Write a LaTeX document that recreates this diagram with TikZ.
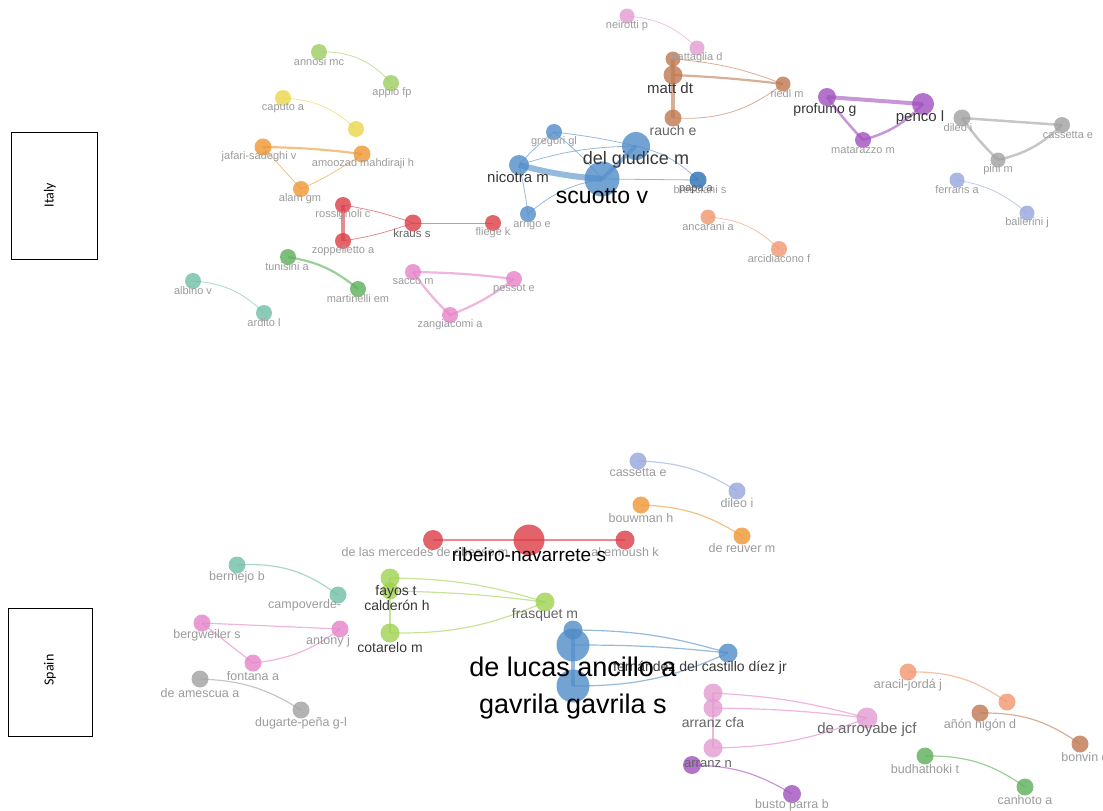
\documentclass[tikz,border=0pt]{standalone}
\usepackage{fontspec}
\setmainfont{Liberation Sans}
\newfontfamily\condfont{Carlito}
\usetikzlibrary{backgrounds}
\newcommand\lfs[1]{\fontsize{#1}{#1}\selectfont}
\definecolor{cGreenL}{RGB}{158,204,96}
\definecolor{cYellow}{RGB}{232,214,72}
\definecolor{cOrange}{RGB}{238,150,50}
\definecolor{cRed}{RGB}{220,60,70}
\definecolor{cGreen}{RGB}{90,175,90}
\definecolor{cTeal}{RGB}{110,190,165}
\definecolor{cPink}{RGB}{230,130,200}
\definecolor{cPinkL}{RGB}{228,155,210}
\definecolor{cBrown}{RGB}{190,120,80}
\definecolor{cBlue}{RGB}{80,140,200}
\definecolor{cBlueD}{RGB}{40,110,180}
\definecolor{cSalmon}{RGB}{240,150,110}
\definecolor{cPurple}{RGB}{160,80,190}
\definecolor{cGray}{RGB}{160,160,160}
\definecolor{cLav}{RGB}{150,165,220}
\definecolor{cLime}{RGB}{160,210,80}
\definecolor{tGray}{RGB}{155,155,155}
\definecolor{tMid}{RGB}{100,100,100}
\definecolor{tDark}{RGB}{55,55,55}
\tikzset{
  nd/.style 2 args={circle, fill=#1, fill opacity=0.8, draw=none, inner sep=0pt, minimum size=#2},
  ed/.style 2 args={draw=#1, line width=#2, draw opacity=0.6},
  lbI/.style={text=tGray, font=\lfs{11}, inner sep=0pt},
  lbS/.style={text=tGray, font=\lfs{12.5}, inner sep=0pt},
  lbM/.style={text=tMid, font=\lfs{#1}, inner sep=0pt},
  lbD/.style={text=tDark, font=\lfs{#1}, inner sep=0pt},
  lbB/.style={text=black, font=\lfs{#1}, inner sep=0pt},
  ctry/.style={draw=black, line width=0.8pt},
}
\begin{document}
\begin{tikzpicture}[x=1pt,y=-1pt]
\useasboundingbox (0,0) rectangle (1103,811);

% ---------------- country boxes
\draw[ctry] (11,132) rectangle (97,259);
\node[rotate=90, font=\condfont\lfs{14}] (italy) at (50,195) {Italy};
\draw[ctry] (8,608) rectangle (92,736);
\node[rotate=90, font=\condfont\lfs{14}] (spain) at (50,670) {Spain};

% ================= ITALY nodes
\node[nd={cGreenL}{16pt}] (annosi) at (319,52) {};
\node[nd={cGreenL}{16pt}] (appio) at (391,83) {};
\node[nd={cYellow}{16pt}] (caputo) at (283,98) {};
\node[nd={cYellow}{16pt}] (yel2) at (356,129) {};
\node[nd={cOrange}{17pt}] (jafari) at (263,147) {};
\node[nd={cOrange}{17pt}] (amoozad) at (362,154) {};
\node[nd={cOrange}{16pt}] (alam) at (301,189) {};
\node[nd={cRed}{16pt}] (rossignoli) at (343,205) {};
\node[nd={cRed}{16pt}] (zoppelletto) at (343,241) {};
\node[nd={cRed}{17pt}] (kraus) at (413,223) {};
\node[nd={cRed}{16pt}] (fliege) at (493,223) {};
\node[nd={cGreen}{16pt}] (tunisini) at (288,257) {};
\node[nd={cGreen}{16pt}] (martinelli) at (358,289) {};
\node[nd={cTeal}{16pt}] (albino) at (193,281) {};
\node[nd={cTeal}{16pt}] (ardito) at (264,313) {};
\node[nd={cPink}{16pt}] (sacco) at (413,272) {};
\node[nd={cPink}{16pt}] (pessot) at (514,279) {};
\node[nd={cPink}{16pt}] (zangiacomi) at (450,315) {};
\node[nd={cPinkL}{15pt}] (neirotti) at (627,16) {};
\node[nd={cPinkL}{15pt}] (battaglia) at (697,48) {};
\node[nd={cBrown}{15pt}] (brown1) at (673,59) {};
\node[nd={cBrown}{19pt}] (matt) at (673,75) {};
\node[nd={cBrown}{17pt}] (rauch) at (673,118) {};
\node[nd={cBrown}{15pt}] (riedl) at (783,84) {};
\node[nd={cBlue}{16pt}] (gregori) at (554,132) {};
\node[nd={cBlue}{28pt}] (delgiudice) at (636,146) {};
\node[nd={cBlue}{20pt}] (nicotra) at (519,165) {};
\node[nd={cBlue}{35pt}] (scuotto) at (602,179) {};
\node[nd={cBlueD}{17pt}] (papa) at (698,180) {};
\node[nd={cBlue}{16pt}] (arrigo) at (528,214) {};
\node[nd={cSalmon}{15pt}] (ancarani) at (708,217) {};
\node[nd={cSalmon}{16pt}] (arcidiacono) at (779,249) {};
\node[nd={cPurple}{18pt}] (profumo) at (827,97) {};
\node[nd={cPurple}{22pt}] (penco) at (923,104) {};
\node[nd={cPurple}{16pt}] (matarazzo) at (863,140) {};
\node[nd={cGray}{17pt}] (dileo) at (962,118) {};
\node[nd={cGray}{16pt}] (cassetta) at (1062,125) {};
\node[nd={cGray}{15pt}] (pini) at (998,160) {};
\node[nd={cLav}{15pt}] (ferraris) at (957,180) {};
\node[nd={cLav}{15pt}] (ballerini) at (1027,213) {};

% ================= SPAIN nodes
\node[nd={cLav}{17pt}] (cassettaS) at (638,461) {};
\node[nd={cLav}{17pt}] (dileoS) at (737,491) {};
\node[nd={cOrange}{17pt}] (bouwman) at (641,505) {};
\node[nd={cOrange}{17pt}] (dereuver) at (742,536) {};
\node[nd={cRed}{20pt}] (mercedes) at (433,540) {};
\node[nd={cRed}{31pt}] (ribeiro) at (529,540) {};
\node[nd={cRed}{19pt}] (alemoush) at (625,540) {};
\node[nd={cTeal}{17pt}] (bermejo) at (237,565) {};
\node[nd={cTeal}{17pt}] (campoverde) at (338,595) {};
\node[nd={cLime}{19pt}] (fayos) at (390,578) {};
\node[nd={cLime}{17pt}] (calderon) at (390,591) {};
\node[nd={cLime}{19pt}] (cotarelo) at (390,633) {};
\node[nd={cLime}{19pt}] (frasquet) at (545,602) {};
\node[nd={cPink}{17pt}] (bergweiler) at (202,623) {};
\node[nd={cPink}{17pt}] (antony) at (340,629) {};
\node[nd={cPink}{17pt}] (fontana) at (253,663) {};
\node[nd={cGray}{17pt}] (deamescua) at (200,679) {};
\node[nd={cGray}{17pt}] (dugarte) at (301,710) {};
\node[nd={cBlue}{19pt}] (blueS) at (573,630) {};
\node[nd={cBlue}{33pt}] (delucas) at (573,645) {};
\node[nd={cBlue}{33pt}] (gavrila) at (573,686) {};
\node[nd={cBlue}{19pt}] (fernandez) at (728,653) {};
\node[nd={cPinkL}{19pt}] (arranzA) at (713,693) {};
\node[nd={cPinkL}{19pt}] (arranzB) at (713,708) {};
\node[nd={cPinkL}{19pt}] (arranzC) at (713,748) {};
\node[nd={cPinkL}{21pt}] (dearroyabe) at (867,718) {};
\node[nd={cPurple}{18pt}] (arranzn) at (692,765) {};
\node[nd={cPurple}{18pt}] (busto) at (792,794) {};
\node[nd={cSalmon}{17pt}] (aracil) at (908,672) {};
\node[nd={cSalmon}{17pt}] (salmon2) at (1007,702) {};
\node[nd={cBrown}{17pt}] (anon) at (980,713) {};
\node[nd={cBrown}{17pt}] (bonvin) at (1080,744) {};
\node[nd={cGreen}{17pt}] (budhathoki) at (925,756) {};
\node[nd={cGreen}{17pt}] (canhoto) at (1025,787) {};

% ================= edges (background)
\begin{scope}[on background layer]
% Italy
\draw[ed={cGreenL}{0.8}] (annosi.center) to[bend left=25] (appio.center);
\draw[ed={cYellow}{0.8}] (caputo.center) to[bend left=20] (yel2.center);
\draw[ed={cOrange}{2.2}] (jafari.center) to[bend left=3] (amoozad.center);
\draw[ed={cOrange}{0.8}] (jafari.center) to (alam.center);
\draw[ed={cOrange}{0.8}] (alam.center) to[bend right=5] (amoozad.center);
\draw[ed={cRed}{3.5}] (rossignoli.center) to (zoppelletto.center);
\draw[ed={cRed}{0.8}] (rossignoli.center) to[bend left=5] (kraus.center);
\draw[ed={cRed}{0.8}] (kraus.center) to[bend left=5] (zoppelletto.center);
\draw[ed={cRed}{0.8}] (kraus.center) to (fliege.center);
\draw[ed={cGreen}{2.2}] (tunisini.center) to[bend left=15] (martinelli.center);
\draw[ed={cTeal}{0.8}] (albino.center) to[bend left=20] (ardito.center);
\draw[ed={cPink}{2.2}] (sacco.center) to[bend left=3] (pessot.center);
\draw[ed={cPink}{2.2}] (pessot.center) to[bend left=8] (zangiacomi.center);
\draw[ed={cPink}{2.2}] (zangiacomi.center) to[bend left=5] (sacco.center);
\draw[ed={cPinkL}{0.8}] (neirotti.center) to[bend left=20] (battaglia.center);
\draw[ed={cBrown}{3.5}] (brown1.center) to (rauch.center);
\draw[ed={cBrown}{2.2}] (matt.center) to[bend left=2] (riedl.center);
\draw[ed={cBrown}{0.8}] (brown1.center) to[bend left=8] (riedl.center);
\draw[ed={cBrown}{0.8}] (riedl.center) to[bend left=20] (rauch.center);
\draw[ed={cBlue}{0.8}] (gregori.center) to[bend left=3] (delgiudice.center);
\draw[ed={cBlue}{0.8}] (gregori.center) to[bend right=5] (nicotra.center);
\draw[ed={cBlue}{0.8}] (gregori.center) to[bend left=5] (scuotto.center);
\draw[ed={cBlue}{6}] (nicotra.center) to[bend right=5] (scuotto.center);
\draw[ed={cBlue}{0.8}] (nicotra.center) to[bend left=8] (delgiudice.center);
\draw[ed={cBlue}{4}] (scuotto.center) to (delgiudice.center);
\draw[ed={cBlue}{0.8}] (delgiudice.center) to[bend left=15] (papa.center);
\draw[ed={cBlue}{0.8}] (scuotto.center) to (papa.center);
\draw[ed={cBlue}{0.8}] (nicotra.center) to[bend left=3] (arrigo.center);
\draw[ed={cBlue}{0.8}] (arrigo.center) to[bend left=15] (scuotto.center);
\draw[ed={cSalmon}{0.8}] (ancarani.center) to[bend left=20] (arcidiacono.center);
\draw[ed={cPurple}{4}] (profumo.center) to (penco.center);
\draw[ed={cPurple}{2.5}] (profumo.center) to[bend right=3] (matarazzo.center);
\draw[ed={cPurple}{2.5}] (penco.center) to[bend left=15] (matarazzo.center);
\draw[ed={cGray}{2.5}] (dileo.center) to (cassetta.center);
\draw[ed={cGray}{2.5}] (dileo.center) to[bend right=5] (pini.center);
\draw[ed={cGray}{2.5}] (cassetta.center) to[bend left=15] (pini.center);
\draw[ed={cLav}{0.8}] (ferraris.center) to[bend left=15] (ballerini.center);
% Spain
\draw[ed={cLav}{1.2}] (cassettaS.center) to[bend left=15] (dileoS.center);
\draw[ed={cOrange}{1.2}] (bouwman.center) to[bend left=15] (dereuver.center);
\draw[ed={cRed}{1.5}] (mercedes.center) to (ribeiro.center);
\draw[ed={cRed}{1.5}] (ribeiro.center) to (alemoush.center);
\draw[ed={cTeal}{1.2}] (bermejo.center) to[bend left=20] (campoverde.center);
\draw[ed={cLime}{1.5}] (fayos.center) to (cotarelo.center);
\draw[ed={cLime}{1.2}] (fayos.center) to[bend left=8] (frasquet.center);
\draw[ed={cLime}{1.2}] (calderon.center) to[bend left=3] (frasquet.center);
\draw[ed={cLime}{1.2}] (frasquet.center) to[bend left=12] (cotarelo.center);
\draw[ed={cPink}{1.2}] (bergweiler.center) to (antony.center);
\draw[ed={cPink}{1.2}] (bergweiler.center) to (fontana.center);
\draw[ed={cPink}{1.2}] (antony.center) to[bend left=15] (fontana.center);
\draw[ed={cGray}{1.2}] (deamescua.center) to[bend left=15] (dugarte.center);
\draw[ed={cBlue}{4}] (blueS.center) to (gavrila.center);
\draw[ed={cBlue}{1.2}] (blueS.center) to[bend left=8] (fernandez.center);
\draw[ed={cBlue}{1.2}] (delucas.center) to[bend left=3] (fernandez.center);
\draw[ed={cBlue}{1.2}] (fernandez.center) to[bend left=12] (gavrila.center);
\draw[ed={cPink}{1.5}] (arranzA.center) to (arranzC.center);
\draw[ed={cPink}{1.2}] (arranzA.center) to[bend left=6] (dearroyabe.center);
\draw[ed={cPink}{1.2}] (arranzB.center) to[bend left=3] (dearroyabe.center);
\draw[ed={cPink}{1.2}] (dearroyabe.center) to[bend left=10] (arranzC.center);
\draw[ed={cPurple}{1.2}] (arranzn.center) to[bend left=15] (busto.center);
\draw[ed={cSalmon}{1.2}] (aracil.center) to[bend left=18] (salmon2.center);
\draw[ed={cBrown}{1.2}] (anon.center) to[bend left=18] (bonvin.center);
\draw[ed={cGreen}{1.2}] (budhathoki.center) to[bend left=18] (canhoto.center);
\end{scope}

% ================= ITALY labels
\node[lbI] (l-annosi) at (319,62) {annosi mc};
\node[lbI] (l-appio) at (392,93) {appio fp};
\node[lbI] (l-caputo) at (283,108) {caputo a};
\node[lbI] (l-jafari) at (259,157) {jafari-sadeghi v};
\node[lbI] (l-amoozad) at (363,164) {amoozad mahdiraji h};
\node[lbI] (l-alam) at (300,199) {alam gm};
\node[lbI] (l-rossignoli) at (343,215) {rossignoli c};
\node[lbI] (l-zoppelletto) at (343,251) {zoppelletto a};
\node[lbM=11.5] (l-kraus) at (412,233) {kraus s};
\node[lbI] (l-fliege) at (493,233) {fliege k};
\node[lbI] (l-tunisini) at (287,267) {tunisini a};
\node[lbI] (l-martinelli) at (358,299) {martinelli em};
\node[lbI] (l-albino) at (193,291) {albino v};
\node[lbI] (l-ardito) at (264,323) {ardito l};
\node[lbI] (l-sacco) at (413,282) {sacco m};
\node[lbI] (l-pessot) at (514,289) {pessot e};
\node[lbI] (l-zangiacomi) at (450,325) {zangiacomi a};
\node[lbI] (l-neirotti) at (627,26) {neirotti p};
\node[lbI] (l-battaglia) at (697,58) {battaglia d};
\node[lbD=15] (l-matt) at (670,88) {matt dt};
\node[lbM=14] (l-rauch) at (673,130) {rauch e};
\node[lbI] (l-riedl) at (787,94) {riedl m};
\node[lbI] (l-gregori) at (554,142) {gregori gl};
\node[lbD=18] (l-delgiudice) at (636,160) {del giudice m};
\node[lbD=15] (l-nicotra) at (518,177) {nicotra m};
\node[lbB=23] (l-scuotto) at (602,196) {scuotto v};
\node[lbI] (l-bresciani) at (700,190) {bresciani s};
\node[lbM=11] (l-papa) at (696,190) {papa a};
\node[lbI] (l-arrigo) at (532,225) {arrigo e};
\node[lbI] (l-ancarani) at (708,227) {ancarani a};
\node[lbI] (l-arcidiacono) at (779,259) {arcidiacono f};
\node[lbD=14] (l-profumo) at (825,110) {profumo g};
\node[lbD=15] (l-penco) at (920,118) {penco l};
\node[lbI] (l-matarazzo) at (863,150) {matarazzo m};
\node[lbI] (l-dileo) at (958,128) {dileo i};
\node[lbI] (l-cassetta) at (1068,135) {cassetta e};
\node[lbI] (l-pini) at (998,170) {pini m};
\node[lbI] (l-ferraris) at (957,190) {ferraris a};
\node[lbI] (l-ballerini) at (1027,223) {ballerini j};

% ================= SPAIN labels
\node[lbS] (l-cassettaS) at (638,473) {cassetta e};
\node[lbS] (l-dileoS) at (737,503) {dileo i};
\node[lbS] (l-bouwman) at (641,518) {bouwman h};
\node[lbS] (l-dereuver) at (742,548) {de reuver m};
\node[lbS] (l-mercedes) at (425,552) {de las mercedes de obesso m};
\node[lbS] (l-alemoush) at (625,552) {al emoush k};
\node[lbB=19] (l-ribeiro) at (529,555) {ribeiro-navarrete s};
\node[lbS] (l-bermejo) at (237,577) {bermejo b};
\node[lbS, anchor=west] (l-campoverde) at (268,605) {campoverde-};
\node[lbD=14] (l-fayos) at (396,592) {fayos t};
\node[lbD=14] (l-calderon) at (397,605) {calderón h};
\node[lbD=14] (l-cotarelo) at (390,647) {cotarelo m};
\node[lbM=14] (l-frasquet) at (545,615) {frasquet m};
\node[lbS] (l-bergweiler) at (207,635) {bergweiler s};
\node[lbS] (l-antony) at (328,641) {antony j};
\node[lbS] (l-fontana) at (253,676) {fontana a};
\node[lbS] (l-deamescua) at (200,693) {de amescua a};
\node[lbS] (l-dugarte) at (301,723) {dugarte-peña g-l};
\node[lbD=14] (l-fernandez) at (700,668) {fernández del castillo díez jr};
\node[lbB=27] (l-delucas) at (573,667) {de lucas ancillo a};
\node[lbB=27] (l-gavrila) at (573,707) {gavrila gavrila s};
\node[lbM=14] (l-arranzcfa) at (713,722) {arranz cfa};
\node[lbM=15] (l-dearroyabe) at (867,730) {de arroyabe jcf};
\node[lbM=13] (l-arranzn) at (708,764) {arranz n};
\node[lbS] (l-busto) at (792,805) {busto parra b};
\node[lbS] (l-aracil) at (908,685) {aracil-jordá j};
\node[lbS] (l-anon) at (980,725) {añón higón d};
\node[lbS] (l-bonvin) at (1085,757) {bonvin d};
\node[lbS] (l-budhathoki) at (925,769) {budhathoki t};
\node[lbS] (l-canhoto) at (1025,800) {canhoto a};
\end{tikzpicture}
\end{document}
